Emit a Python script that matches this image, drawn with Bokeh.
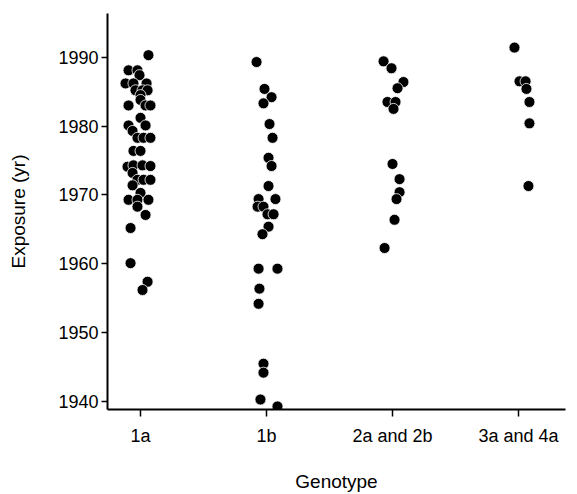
from bokeh.plotting import figure
from bokeh.models import Range1d, FixedTicker
from bokeh.embed import file_html
from bokeh.resources import INLINE

genotypes = ["1a", "1b", "2a and 2b", "3a and 4a"]
y_ticks = [1940, 1950, 1960, 1970, 1980, 1990]

# Genotype 1a: exposure year and horizontal jitter (category units)
g1a_year = [1990.3, 1988.1, 1988.1, 1987.4, 1986.2, 1986.2, 1986.2, 1985.2, 1985.2, 1985.2,
            1984.5, 1983.0, 1983.8, 1983.0, 1983.0, 1981.2, 1980.1, 1980.1, 1979.3, 1978.3,
            1978.3, 1978.3, 1976.4, 1976.4, 1974.1, 1974.3, 1974.3, 1974.2, 1973.2, 1972.2,
            1972.2, 1972.2, 1971.4, 1970.3, 1969.3, 1969.3, 1969.3, 1968.3, 1967.1, 1965.2,
            1960.1, 1957.4, 1956.2]
g1a_jit = [0.063, -0.095, -0.024, -0.008, -0.119, -0.056, 0.048, -0.040, 0.016, 0.056,
           0.0, -0.095, 0.0, 0.040, 0.079, 0.0, 0.040, -0.095, -0.063, -0.024,
           0.024, 0.079, -0.056, 0.0, -0.103, -0.056, 0.016, 0.079, -0.063, -0.024,
           0.024, 0.079, -0.063, 0.0, -0.095, -0.024, 0.063, -0.024, 0.040, -0.079,
           -0.079, 0.056, 0.016]

# Genotype 1b
g1b_year = [1989.3, 1985.4, 1984.2, 1983.3, 1980.3, 1978.3, 1975.4, 1974.2, 1971.3, 1969.4,
            1969.4, 1968.3, 1968.3, 1967.2, 1967.2, 1965.4, 1964.3, 1959.3, 1959.3, 1956.4,
            1954.2, 1945.5, 1944.2, 1940.3, 1939.3]
g1b_jit = [-0.079, -0.016, 0.040, -0.024, 0.024, 0.048, 0.016, 0.040, 0.016, -0.063,
           0.071, -0.071, -0.024, 0.008, 0.056, 0.016, -0.032, -0.063, 0.087, -0.056,
           -0.063, -0.024, -0.024, -0.048, 0.087]

# Genotype 2a and 2b
g2_year = [1989.4, 1988.4, 1986.4, 1985.5, 1983.5, 1983.5, 1982.5, 1974.5, 1972.3, 1970.4,
           1969.4, 1966.4, 1962.3]
g2_jit = [-0.071, -0.008, 0.087, 0.040, -0.040, 0.024, 0.008, 0.0, 0.056, 0.056,
          0.032, 0.016, -0.063]

# Genotype 3a and 4a
g3_year = [1991.4, 1986.5, 1986.5, 1985.4, 1983.5, 1980.4, 1971.3]
g3_jit = [-0.032, 0.008, 0.056, 0.063, 0.087, 0.087, 0.079]

groups = [(g1a_year, g1a_jit), (g1b_year, g1b_jit), (g2_year, g2_jit), (g3_year, g3_jit)]

p = figure(width=577, height=494, output_backend="svg", toolbar_location=None,
           x_range=Range1d(0.738, 4.373), y_range=Range1d(1938.85, 1996.35),
           min_border_left=107, min_border_right=12, min_border_top=13, min_border_bottom=84)
p.outline_line_color = None
p.xgrid.visible = False
p.ygrid.visible = False
p.background_fill_color = "white"
p.border_fill_color = "white"

for i, (years, jit) in enumerate(groups):
    xs = [i + 1 + j for j in jit]
    p.scatter(xs, years, size=11, fill_color="black", line_color="white", line_width=0.8)

font = "Liberation Sans"
p.xaxis.ticker = FixedTicker(ticks=[1, 2, 3, 4])
p.xaxis.major_label_overrides = {i + 1: g for i, g in enumerate(genotypes)}
p.yaxis.ticker = FixedTicker(ticks=y_ticks)
for ax in (p.xaxis[0], p.yaxis[0]):
    ax.axis_line_color = "black"
    ax.axis_line_width = 2
    ax.major_tick_line_color = "black"
    ax.major_tick_line_width = 1.5
    ax.major_tick_in = 0
    ax.minor_tick_line_color = None
    ax.major_label_text_font = font
    ax.major_label_text_font_size = "18px"
    ax.major_label_text_color = "black"
    ax.axis_label_text_font = font
    ax.axis_label_text_font_style = "normal"
    ax.axis_label_text_font_size = "19px"
    ax.axis_label_text_color = "black"

p.xaxis.axis_label = "Genotype"
p.xaxis.major_tick_out = 7
p.xaxis.major_label_standoff = 9
p.xaxis.axis_label_standoff = 22
p.yaxis.axis_label = "Exposure (yr)"
p.yaxis.major_tick_out = 6
p.yaxis.major_label_standoff = 3
p.yaxis.axis_label_standoff = 26

open("out.html", "w").write(file_html(p, INLINE))
